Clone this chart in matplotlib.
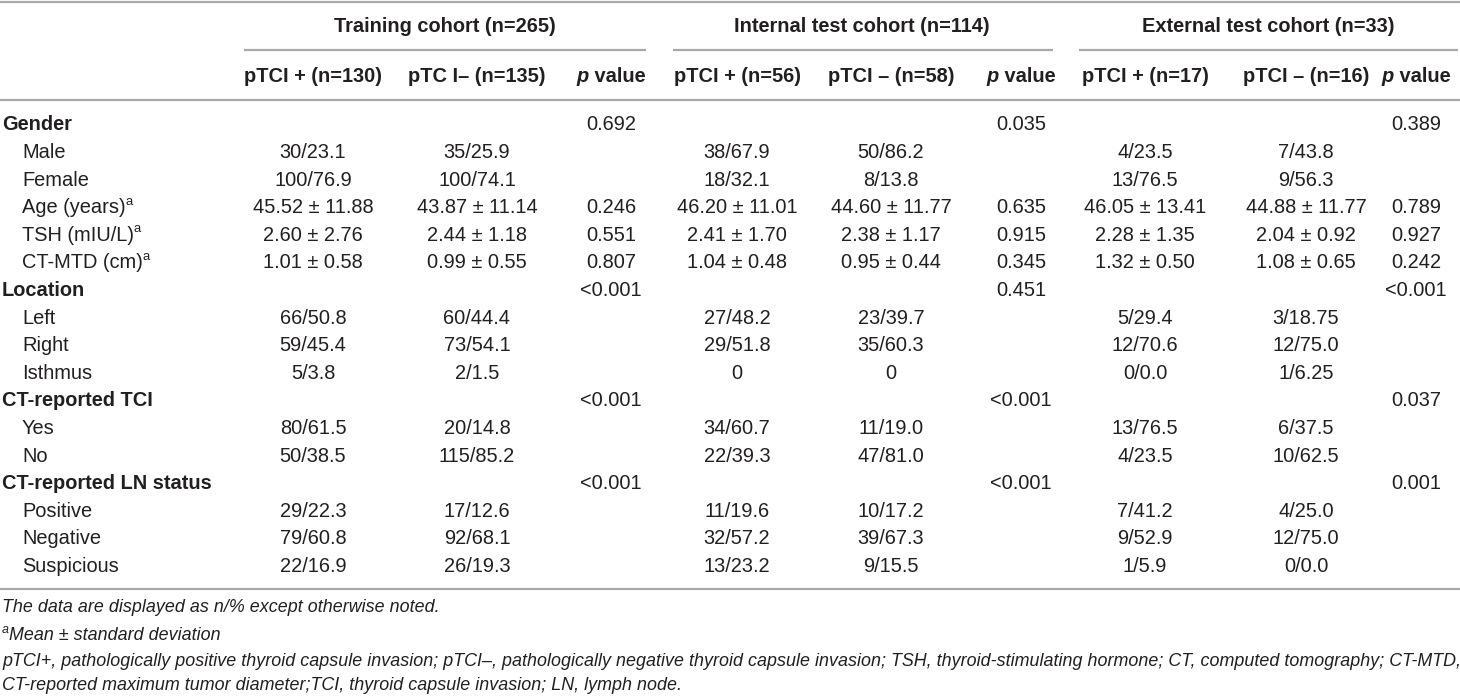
import matplotlib
matplotlib.use("Agg")
import matplotlib.pyplot as plt

W, H = 1460, 698
INK = "#231f20"
RULE = "#a8a8a8"
plt.rcParams["font.family"] = ["Liberation Sans", "DejaVu Sans"]

groups = ["Training cohort (n=265)", "Internal test cohort (n=114)", "External test cohort (n=33)"]
subheads = ["pTCI + (n=130)", "pTC I\u2013 (n=135)", "pTCI + (n=56)", "pTCI \u2013 (n=58)",
            "pTCI + (n=17)", "pTCI \u2013 (n=16)"]
row_labels = ["Gender", "Male", "Female", "Age (years)", "TSH (mIU/L)", "CT-MTD (cm)", "Location",
              "Left", "Right", "Isthmus", "CT-reported TCI", "Yes", "No", "CT-reported LN status",
              "Positive", "Negative", "Suspicious"]
heading_rows = ["Gender", "Location", "CT-reported TCI", "CT-reported LN status"]
sup_rows = ["Age (years)", "TSH (mIU/L)", "CT-MTD (cm)"]

train_pos = ["", "30/23.1", "100/76.9", "45.52 \u00b1 11.88", "2.60 \u00b1 2.76", "1.01 \u00b1 0.58", "",
             "66/50.8", "59/45.4", "5/3.8", "", "80/61.5", "50/38.5", "", "29/22.3", "79/60.8", "22/16.9"]
train_neg = ["", "35/25.9", "100/74.1", "43.87 \u00b1 11.14", "2.44 \u00b1 1.18", "0.99 \u00b1 0.55", "",
             "60/44.4", "73/54.1", "2/1.5", "", "20/14.8", "115/85.2", "", "17/12.6", "92/68.1", "26/19.3"]
train_p = ["0.692", "", "", "0.246", "0.551", "0.807", "<0.001", "", "", "", "<0.001", "", "",
           "<0.001", "", "", ""]
int_pos = ["", "38/67.9", "18/32.1", "46.20 \u00b1 11.01", "2.41 \u00b1 1.70", "1.04 \u00b1 0.48", "",
           "27/48.2", "29/51.8", "0", "", "34/60.7", "22/39.3", "", "11/19.6", "32/57.2", "13/23.2"]
int_neg = ["", "50/86.2", "8/13.8", "44.60 \u00b1 11.77", "2.38 \u00b1 1.17", "0.95 \u00b1 0.44", "",
           "23/39.7", "35/60.3", "0", "", "11/19.0", "47/81.0", "", "10/17.2", "39/67.3", "9/15.5"]
int_p = ["0.035", "", "", "0.635", "0.915", "0.345", "0.451", "", "", "", "<0.001", "", "",
         "<0.001", "", "", ""]
ext_pos = ["", "4/23.5", "13/76.5", "46.05 \u00b1 13.41", "2.28 \u00b1 1.35", "1.32 \u00b1 0.50", "",
           "5/29.4", "12/70.6", "0/0.0", "", "13/76.5", "4/23.5", "", "7/41.2", "9/52.9", "1/5.9"]
ext_neg = ["", "7/43.8", "9/56.3", "44.88 \u00b1 11.77", "2.04 \u00b1 0.92", "1.08 \u00b1 0.65", "",
           "3/18.75", "12/75.0", "1/6.25", "", "6/37.5", "10/62.5", "", "4/25.0", "12/75.0", "0/0.0"]
ext_p = ["0.389", "", "", "0.789", "0.927", "0.242", "<0.001", "", "", "", "0.037", "", "",
         "0.001", "", "", ""]

footnotes = ["The data are displayed as n/% except otherwise noted.",
             "Mean \u00b1 standard deviation",
             "pTCI+, pathologically positive thyroid capsule invasion; pTCI\u2013, pathologically negative "
             "thyroid capsule invasion; TSH, thyroid-stimulating hormone; CT, computed tomography; CT-MTD,",
             "CT-reported maximum tumor diameter;TCI, thyroid capsule invasion; LN, lymph node."]

columns = [train_pos, train_neg, train_p, int_pos, int_neg, int_p, ext_pos, ext_neg, ext_p]
col_x = [313, 477, 611, 737, 891, 1021, 1145, 1306, 1416]
group_x = [445, 862, 1268]
group_span = [(244, 646), (673, 1053), (1079, 1458)]
FS = 14.4
FN = 12.9

fig = plt.figure(figsize=(W / 100, H / 100), dpi=100)
fig.patch.set_facecolor("white")
ax = fig.add_axes([0, 0, 1, 1])
ax.set_xlim(0, W); ax.set_ylim(H, 0); ax.axis("off")
rend = fig.canvas.get_renderer()


def width(t):
    return t.get_window_extent(renderer=rend).width


def pieces(x, y, parts, ha="center"):
    # parts: list of (text, kwargs, dy); laid out left to right
    arts = [ax.text(0, y + dy, s, va="center", ha="left", color=INK, **kw) for s, kw, dy in parts]
    ws = [width(a) for a in arts]
    x0 = x - sum(ws) / 2 if ha == "center" else x
    for a, w in zip(arts, ws):
        a.set_x(x0); x0 += w


# rules
ax.plot([0, W], [1.5, 1.5], color=RULE, lw=1.6, solid_capstyle="butt")
ax.plot([0, W], [100, 100], color=RULE, lw=1.6, solid_capstyle="butt")
ax.plot([0, W], [589, 589], color=RULE, lw=1.6, solid_capstyle="butt")
for a, b in group_span:
    ax.plot([a, b], [50, 50], color=RULE, lw=1.6, solid_capstyle="butt")

# headers
for g, gx in zip(groups, group_x):
    ax.text(gx, 27, g, ha="center", va="center", fontsize=FS, fontweight="bold", color=INK)
sub_x = [col_x[0], col_x[1], col_x[3], col_x[4], col_x[6], col_x[7]]
for s, sx in zip(subheads, sub_x):
    ax.text(sx, 77, s, ha="center", va="center", fontsize=FS, fontweight="bold", color=INK)
for px in (col_x[2], col_x[5], col_x[8]):
    pieces(px, 77, [("p", dict(fontsize=FS, fontstyle="italic", fontweight="bold"), 0),
                    (" value", dict(fontsize=FS, fontweight="bold"), 0)])

# body
y0, dy = 125, 27.6
for i, lab in enumerate(row_labels):
    y = y0 + i * dy
    if lab in heading_rows:
        ax.text(2, y, lab, ha="left", va="center", fontsize=FS, fontweight="bold", color=INK)
    elif lab in sup_rows:
        pieces(22, y, [(lab, dict(fontsize=FS), 0), ("a", dict(fontsize=FS * 0.65), -6)], ha="left")
    else:
        ax.text(22, y, lab, ha="left", va="center", fontsize=FS, color=INK)
    for col, cx in zip(columns, col_x):
        if col[i]:
            ax.text(cx, y, col[i], ha="center", va="center", fontsize=FS, color=INK)

# footnotes
fy = [608, 635, 661, 686]
ax.text(2, fy[0], footnotes[0], ha="left", va="center", fontsize=FN, fontstyle="italic", color=INK)
pieces(2, fy[1], [("a", dict(fontsize=FN * 0.7, fontstyle="italic"), -5),
                  (footnotes[1], dict(fontsize=FN, fontstyle="italic"), 0)], ha="left")
ax.text(2, fy[2], footnotes[2], ha="left", va="center", fontsize=FN, fontstyle="italic", color=INK)
ax.text(2, fy[3], footnotes[3], ha="left", va="center", fontsize=FN, fontstyle="italic", color=INK)

fig.savefig("out.png", dpi=100, facecolor="white")
